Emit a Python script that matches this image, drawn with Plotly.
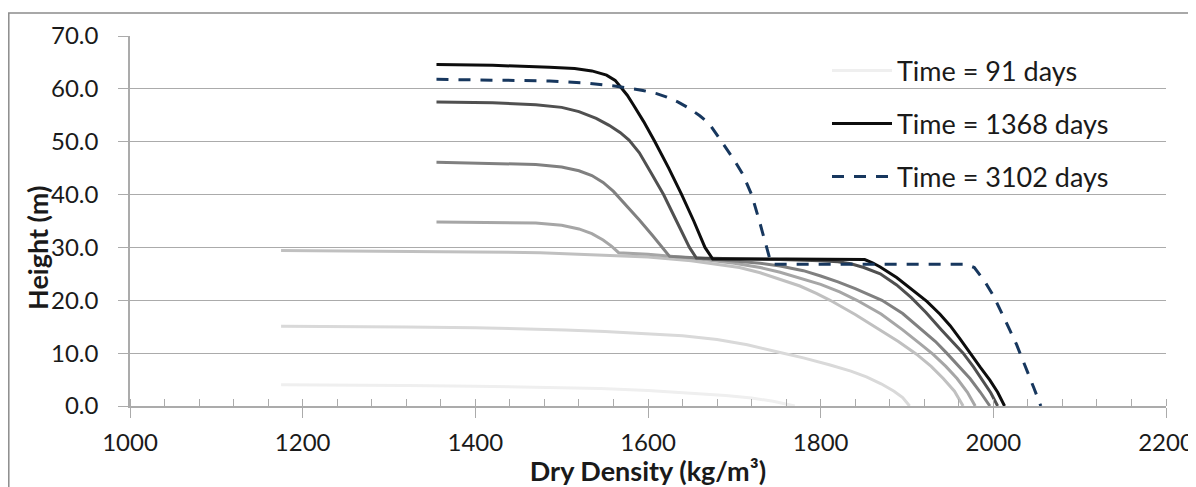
import plotly.graph_objects as go

# ---- data ----
a_x = [1175, 1250, 1320, 1400, 1470, 1545, 1600, 1650, 1690, 1720, 1745, 1770]
a_y = [4.0, 3.97, 3.9, 3.75, 3.55, 3.3, 2.95, 2.5, 2.0, 1.5, 0.9, 0.0]

b_x = [1175, 1250, 1320, 1400, 1460, 1504, 1550, 1600, 1640, 1680, 1715, 1748, 1780, 1810, 1835, 1853, 1870, 1885, 1895, 1903]
b_y = [15.1, 15.05, 14.95, 14.8, 14.6, 14.4, 14.1, 13.7, 13.3, 12.6, 11.6, 10.3, 9.1, 7.8, 6.6, 5.5, 4.2, 2.8, 1.6, 0.0]

c_x = [1175, 1300, 1400, 1475, 1550, 1600, 1650, 1706, 1730, 1753, 1776, 1795, 1811, 1840, 1868, 1890, 1911, 1928, 1942, 1955, 1965]
c_y = [29.4, 29.3, 29.15, 29.0, 28.6, 28.2, 27.5, 26.2, 25.2, 24.0, 22.7, 21.3, 20.0, 17.3, 14.4, 12.2, 9.8, 7.5, 5.2, 2.8, 0.0]

d_x = [1355, 1420, 1470, 1500, 1520, 1535, 1548, 1558, 1566, 1600, 1650, 1700, 1730, 1753, 1780, 1800, 1822, 1842,
       1870, 1895, 1915, 1930, 1945, 1958, 1970, 1979]
d_y = [34.8, 34.75, 34.6, 34.2, 33.5, 32.6, 31.4, 30.2, 29.0, 28.7, 28.0, 27.0, 26.2, 25.3, 24.0, 23.0, 21.6, 20.0,
       17.4, 14.4, 11.8, 9.8, 7.5, 5.2, 2.6, 0.0]

e_x = [1355, 1420, 1470, 1500, 1520, 1535, 1548, 1560, 1575, 1590, 1605, 1617, 1625, 1660, 1700, 1730, 1753, 1780,
       1800, 1820, 1840, 1856, 1871, 1895, 1918, 1933, 1946, 1960, 1973, 1985, 1996]
e_y = [46.1, 45.95, 45.7, 45.2, 44.5, 43.6, 42.3, 40.6, 38.0, 35.2, 32.3, 30.0, 28.3, 28.0, 27.5, 27.0, 26.5, 25.6,
       24.6, 23.5, 22.2, 21.1, 20.0, 17.5, 14.4, 12.2, 10.0, 7.6, 5.2, 2.6, 0.0]

f_x = [1355, 1420, 1470, 1500, 1520, 1540, 1555, 1568, 1578, 1590, 1604, 1618, 1633, 1648, 1656, 1700, 1753, 1800,
       1820, 1835, 1850, 1869, 1888, 1905, 1922, 1940, 1953, 1965, 1977, 1987, 1997, 2005]
f_y = [57.5, 57.35, 57.0, 56.5, 55.7, 54.4, 53.1, 51.7, 50.3, 47.9, 44.0, 40.0, 35.0, 30.0, 28.0, 27.9, 27.7, 27.5,
       27.3, 26.9, 26.2, 25.0, 22.9, 20.5, 17.7, 14.4, 12.2, 10.0, 7.4, 5.0, 2.5, 0.0]

g_x = [1355, 1420, 1486, 1515, 1535, 1552, 1562, 1569, 1576, 1583, 1595, 1608, 1624, 1639, 1653, 1666, 1675, 1760,
       1851, 1860, 1869, 1888, 1907, 1923, 1938, 1950, 1961, 1973, 1985, 1996, 2005, 2013]
g_y = [64.6, 64.45, 64.1, 63.85, 63.4, 62.6, 61.6, 60.3, 58.8, 57.0, 53.8, 50.0, 45.0, 40.0, 35.0, 30.0, 27.8, 27.8,
       27.7, 27.1, 26.3, 24.3, 21.9, 19.8, 17.4, 15.2, 12.8, 10.0, 7.3, 4.9, 2.6, 0.0]

h_x = [1355, 1430, 1486, 1529, 1563, 1594, 1610, 1621, 1635, 1648, 1660, 1671, 1685, 1693, 1700, 1710, 1720, 1729,
       1737, 1742, 1745, 1968, 1978, 1990, 2000, 2010, 2019, 2027, 2034, 2040, 2047, 2055]
h_y = [61.8, 61.7, 61.5, 61.1, 60.5, 59.7, 59.1, 58.5, 57.5, 56.3, 54.9, 53.4, 50.0, 48.0, 46.5, 43.8, 40.0, 35.0,
       30.0, 27.3, 26.8, 26.8, 26.2, 23.6, 20.9, 17.6, 14.4, 11.6, 8.8, 6.3, 3.4, 0.0]

x_ticks = [1000, 1200, 1400, 1600, 1800, 2000, 2200]
y_ticks = [0, 10, 20, 30, 40, 50, 60, 70]

FONT = "Lato"
GRID = "#ababab"
TXT = "#1a1a1a"

fig = go.Figure()

series = [
    (a_x, a_y, "#efefef", "solid", "Time = 91 days", "legend"),
    (b_x, b_y, "#d9d9d9", "solid", None, None),
    (c_x, c_y, "#c0c0c0", "solid", None, None),
    (d_x, d_y, "#a6a6a6", "solid", None, None),
    (e_x, e_y, "#808080", "solid", None, None),
    (f_x, f_y, "#505050", "solid", None, None),
    (g_x, g_y, "#0d0d0d", "solid", "Time = 1368 days", "legend2"),
    (h_x, h_y, "#17375e", "12px,10px", "Time = 3102 days", "legend3"),
]
for xs, ys, col, dash, name, leg in series:
    kw = dict(x=xs, y=ys, mode="lines", line=dict(color=col, width=3, dash=dash))
    if name:
        kw.update(name=name, showlegend=True, legend=leg)
    else:
        kw.update(showlegend=False)
    fig.add_trace(go.Scatter(**kw))

# page has an 8px body margin: figure coords = page coords - 8
OFF = 8
W, H = 1196 - OFF, 487 - OFF
L, R, T, B = 130 - OFF, 1196 - 1166, 36 - OFF, 487 - 406
pw, ph = W - L - R, H - T - B

def px_x(p):
    return (p - OFF - L) / pw

def px_y(p):
    return (H - B - (p - OFF)) / ph

leg_common = dict(bgcolor="rgba(0,0,0,0)", font=dict(family=FONT, size=27, color=TXT),
                  xanchor="left", yanchor="middle", itemwidth=60)
fig.update_layout(
    width=W, height=H,
    margin=dict(l=L, r=R, t=T, b=B),
    paper_bgcolor="white", plot_bgcolor="white",
    legend=dict(x=px_x(827), y=px_y(71), **leg_common),
    legend2=dict(x=px_x(827), y=px_y(124), **leg_common),
    legend3=dict(x=px_x(827), y=px_y(177), **leg_common),
    xaxis=dict(
        range=[1000, 2200], tickvals=x_ticks, showgrid=False, zeroline=False, automargin=False,
        showline=True, linecolor=GRID, linewidth=1.5,
        ticks="outside", ticklen=10, tickcolor=GRID, tickwidth=1.2,
        minor=dict(dtick=40, tick0=1000, ticks="inside", ticklen=7, tickcolor=GRID, tickwidth=1, showgrid=False),
        tickfont=dict(family=FONT, size=24, color=TXT), ticklabelstandoff=4,
        title=dict(text="<b>Dry Density (kg/m³)</b>", font=dict(family=FONT, size=27, color=TXT), standoff=0),
    ),
    yaxis=dict(
        range=[0, 70], tickvals=y_ticks, tickformat=".1f", showgrid=True, gridcolor=GRID, gridwidth=1.2,
        zeroline=False, showline=True, linecolor=GRID, linewidth=1.5, automargin=False,
        ticks="outside", ticklen=10, tickcolor=GRID, tickwidth=1.2,
        tickfont=dict(family=FONT, size=24, color=TXT), ticklabelstandoff=15,
    ),
    annotations=[dict(text="<b>Height (m)</b>", xref="paper", yref="paper", x=px_x(38), y=px_y(248),
                      xanchor="center", yanchor="middle", textangle=-90, showarrow=False,
                      font=dict(family=FONT, size=27, color=TXT))],
    shapes=[dict(type="rect", xref="paper", yref="paper",
                 x0=px_x(8.8), x1=px_x(1210), y0=px_y(500), y1=px_y(13),
                 line=dict(color="#8c8c8c", width=1.5), fillcolor="rgba(0,0,0,0)", layer="below")],
)

fig.write_html("out.html")
